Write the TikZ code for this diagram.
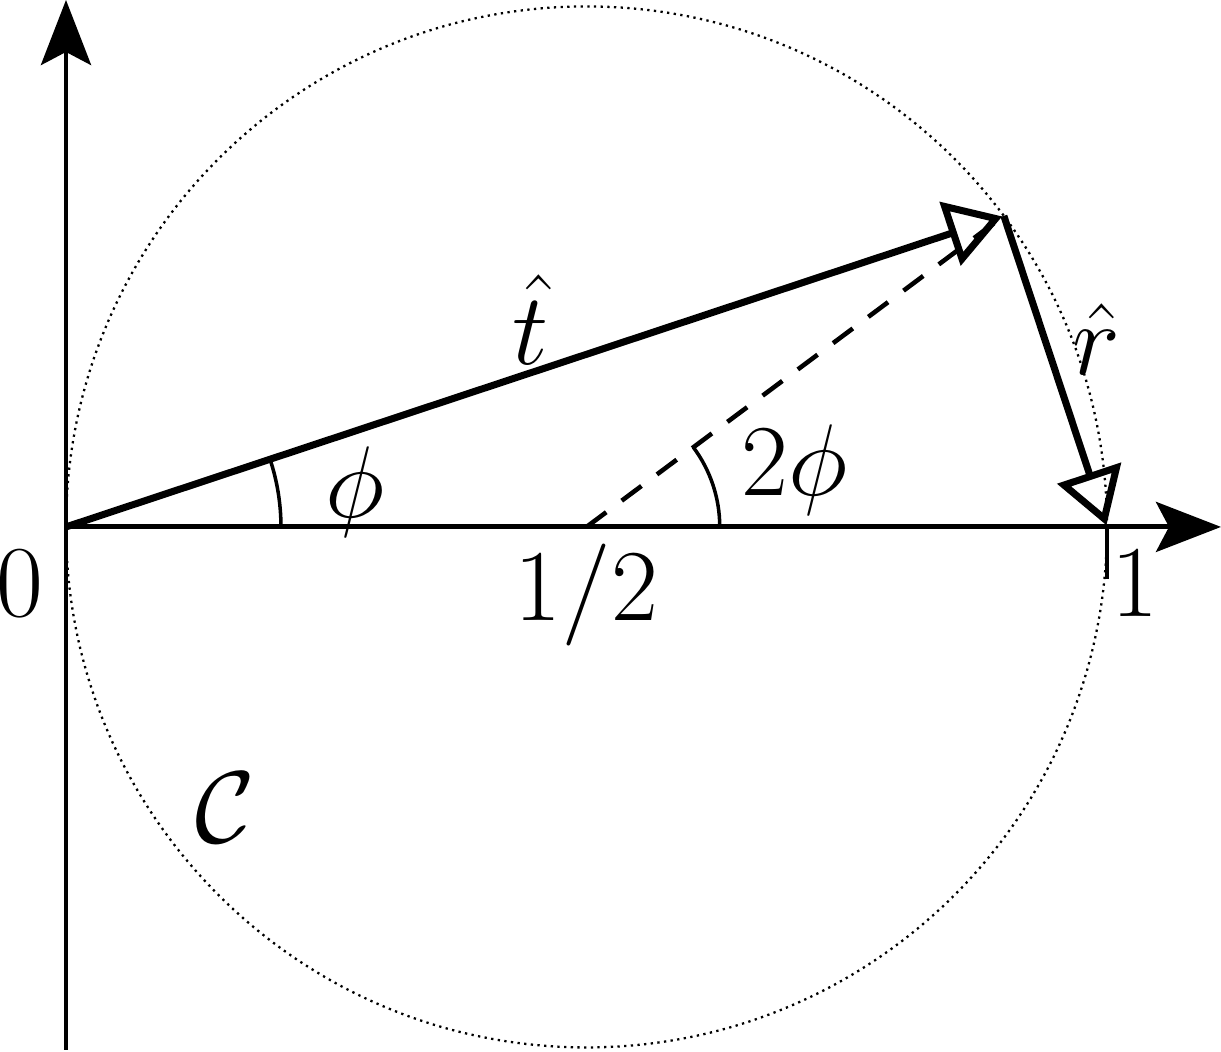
\documentclass[tikz,border=0pt]{standalone}
\usepackage{fix-cm}
\usetikzlibrary{arrows.meta}

\tikzset{
    lbl/.style={font=\fontsize{29}{34}\selectfont, inner sep=0pt},
    axis/.style={line width=1.4pt, -{Stealth[length=0.65cm, width=0.5cm, inset=0.13cm]}},
    vec/.style={line width=2pt, -{Triangle[open, length=0.55cm, width=0.66cm]}, shorten >=0.5pt}
}

\begin{document}
\begin{tikzpicture}[x=10.41cm, y=10.41cm]
    \useasboundingbox (-0.0634,-0.5043) rectangle (1.1095,0.5062);
    \coordinate (O) at (0,0);
    \coordinate (M) at (0.5,0);
    \coordinate (E) at (1,0);
    \coordinate (P) at (0.9009,0.2988);
    % circle C
    \draw[line width=0.65pt, dash pattern=on 0.65pt off 1.25pt] (M) circle (0.5);
    % axes
    \draw[axis] (0,-0.5024) -- (0,0.5062);
    \draw[axis] (O) -- (1.1095,0);
    \draw[line width=1.4pt] (E) -- (1,-0.05);
    % vectors
    \draw[line width=1.3pt, dash pattern=on 7pt off 5.5pt] (M) -- (P);
    \draw[vec] (O) -- (P);
    \draw[vec] (P) -- (E);
    % angles
    \draw[line width=1pt] (0.2065,0) arc (0:18.35:0.2065);
    \draw[line width=1pt] (0.628,0) arc (0:36.7:0.128);
    % labels
    \node[lbl, anchor=base] (zero) at (-0.044,-0.086) {$0$};
    \node[lbl, anchor=base] (half) at (0.500,-0.090) {$1/2$};
    \node[lbl, anchor=base] (one) at (1.027,-0.086) {$1$};
    \node[lbl] (phi) at (0.278,0.034) {$\phi$};
    \node[lbl] (twophi) at (0.700,0.055) {$2\phi$};
    \node[lbl] (that) at (0.446,0.199) {$\hat{t}$};
    \node[lbl] (rhat) at (0.990,0.180) {$\hat{r}$};
    \node[lbl] (C) at (0.153,-0.270) {$\mathcal{C}$};
\end{tikzpicture}
\end{document}
